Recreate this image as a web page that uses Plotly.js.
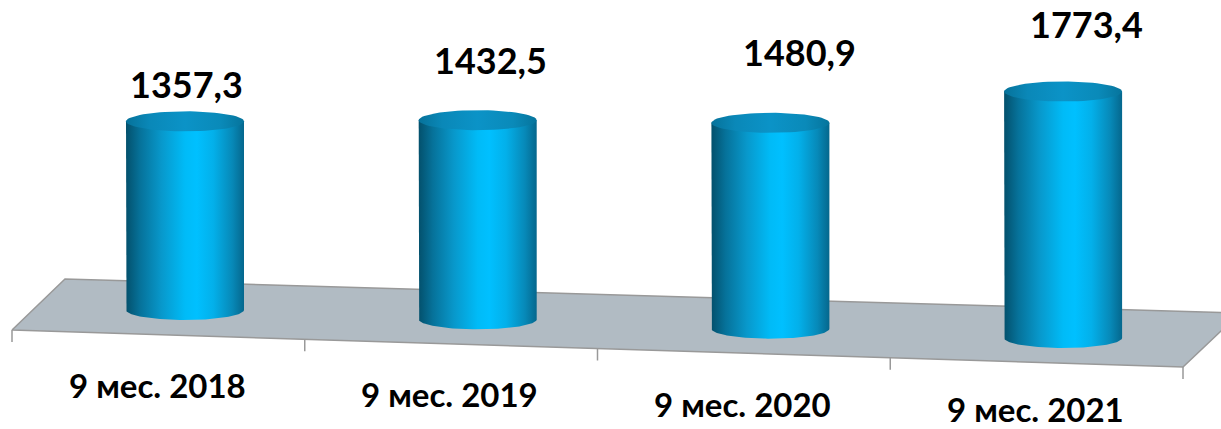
<!DOCTYPE html>
<html>
<head>
<meta charset="utf-8">
<script src="https://cdn.plot.ly/plotly-3.0.1.min.js"></script>
<style>html,body{margin:0;padding:0;background:#fff;}#chart{width:1221px;height:429px;}</style>
</head>
<body>
<div id="chart"></div>
<script>
// ---- data ----
const categories = ['9 мес. 2018', '9 мес. 2019', '9 мес. 2020', '9 мес. 2021'];
const values = [1357.3, 1432.5, 1480.9, 1773.4];

// ---- geometry of the pseudo-3D view (layout only) ----
const W = 1221, H = 429;
const PXU = 292.7;      // px per category step
const CX0 = 185;        // px centre of first category
const BASE0 = 310;      // px y of first cylinder base centre
const BASESTEP = 9.33;  // perspective drop of base per category (px)
const K = 0.139;        // px per value unit
const toX = px => (px - CX0) / PXU;
const toY = py => (BASE0 - py) / K;
const baseY = i => toY(BASE0 + BASESTEP * i);
const RX = 59 / PXU, RY = 10 / K;
const N = 72;

const traces = [];

// floor plane
const fpx = [12, 65, 1240, 1183, 12], fpy = [330, 279, 313, 367, 330];
traces.push({
  type: 'scatter', mode: 'lines', x: fpx.map(toX), y: fpy.map(toY),
  fill: 'toself', fillcolor: '#b1bbc3', line: {color: '#999999', width: 1.5}, hoverinfo: 'skip'
});
// tick marks on front edge
const tx = [], ty = [];
for (let k = 0; k <= categories.length; k++) {
  const px = 12 + 292.75 * k, py = 330 + 9.25 * k;
  tx.push(toX(px), toX(px), null); ty.push(toY(py), toY(py + 12), null);
}
traces.push({type: 'scatter', mode: 'lines', x: tx, y: ty, line: {color: '#999999', width: 1.5}, hoverinfo: 'skip'});

const bodyScale = [[0, '#03506c'], [0.12, '#06729a'], [0.3, '#0898cb'], [0.5, '#00bbf7'], [0.6, '#00c0ff'],
                   [0.74, '#03b0ea'], [0.9, '#0789b8'], [1, '#05678d']];
const topScale = [[0, '#06729a'], [0.2, '#0a88b8'], [0.5, '#0b93c7'], [0.8, '#0a8ab9'], [1, '#06749c']];

const annotations = [];
const valShift = [[1, 37], [13, 60], [29, 71], [23, 67]]; // value label placement (px)
const catDrop = [75, 75, 75, 71];                          // category label placement (px)
const labelFont = {family: 'Lato', size: 36, color: '#000000', weight: 'bold'};

values.forEach((v, i) => {
  const cx = i, b = baseY(i), t = b + v;
  // body: left side, bottom half ellipse, right side
  const bx = [cx - RX], by = [t];
  for (let j = 0; j <= N; j++) {
    const th = Math.PI + Math.PI * j / N;
    bx.push(cx + RX * Math.cos(th)); by.push(b + RY * Math.sin(th));
  }
  bx.push(cx + RX, cx - RX); by.push(t, t);
  traces.push({
    type: 'scatter', mode: 'lines', x: bx, y: by, fill: 'toself',
    fillgradient: {type: 'horizontal', colorscale: bodyScale},
    line: {width: 0, color: 'rgba(0,0,0,0)'}, hoverinfo: 'skip'
  });
  // top ellipse
  const ex = [], ey = [];
  for (let j = 0; j <= N; j++) {
    const th = 2 * Math.PI * j / N;
    ex.push(cx + RX * Math.cos(th)); ey.push(t + RY * Math.sin(th));
  }
  traces.push({
    type: 'scatter', mode: 'lines', x: ex, y: ey, fill: 'toself',
    fillgradient: {type: 'horizontal', colorscale: topScale},
    line: {width: 0, color: 'rgba(0,0,0,0)'}, hoverinfo: 'skip'
  });
  // value label
  annotations.push({
    x: cx + valShift[i][0] / PXU, y: t + valShift[i][1] / K, xref: 'x', yref: 'y',
    text: v.toFixed(1).replace('.', ','), showarrow: false, xanchor: 'center', yanchor: 'middle',
    font: labelFont
  });
  // category label
  annotations.push({
    x: cx - 28 / PXU, y: b - catDrop[i] / K, xref: 'x', yref: 'y',
    text: categories[i], showarrow: false, xanchor: 'center', yanchor: 'middle',
    font: Object.assign({}, labelFont, {size: 33})
  });
});

const layout = {
  width: W, height: H, margin: {l: 0, r: 0, t: 0, b: 0},
  paper_bgcolor: '#ffffff', plot_bgcolor: '#ffffff', showlegend: false, hovermode: false,
  xaxis: {range: [toX(0), toX(W)], visible: false, fixedrange: true},
  yaxis: {range: [toY(H), toY(0)], visible: false, fixedrange: true},
  annotations: annotations
};
Plotly.newPlot('chart', traces, layout, {staticPlot: true, displayModeBar: false});
</script>
</body>
</html>
